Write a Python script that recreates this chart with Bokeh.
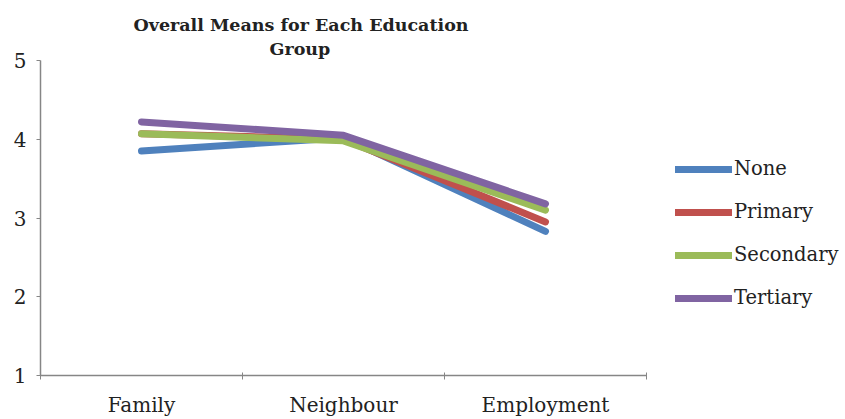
from bokeh.plotting import figure
from bokeh.models import FixedTicker, Legend, LegendItem, Range1d, Title
from bokeh.embed import file_html
from bokeh.resources import INLINE

# Mean scores per domain for each education group
categories = ["Family", "Neighbour", "Employment"]
none_vals = [3.85, 4.02, 2.83]
primary_vals = [4.07, 4.00, 2.95]
secondary_vals = [4.07, 3.98, 3.10]
tertiary_vals = [4.22, 4.05, 3.18]
y_ticks = [1, 2, 3, 4, 5]

series = [
    ("None", none_vals, "#4F81BD"),
    ("Primary", primary_vals, "#C0504D"),
    ("Secondary", secondary_vals, "#9BBB59"),
    ("Tertiary", tertiary_vals, "#8064A2"),
]

serif = "DejaVu Serif"
ink = "#222222"
axis_grey = "#868686"

W, H = 845, 419
left, top, bottom = 40, 60, 44
axis_px = 606  # width of the category axis; the rest holds the legend

n = len(categories)
x_end = n * (W - left) / axis_px

p = figure(
    width=W, height=H,
    output_backend="svg", toolbar_location=None,
    x_range=Range1d(0, x_end), y_range=Range1d(1, 5),
    min_border_left=left, min_border_right=0,
    min_border_top=top, min_border_bottom=bottom,
    title=None,
)

# Two-line title, each line placed from the frame's left edge
for line, shift, gap in [("Group", 229, 4), ("Overall Means for Each Education", 93, 0)]:
    p.add_layout(Title(text=line, align="left", offset=shift,
                       text_font=serif, text_font_size="17.5px",
                       text_font_style="bold", text_color=ink,
                       standoff=gap), "above")

# Category centres sit half a band in; boundary ticks at band edges
centers = [i + 0.5 for i in range(n)]
edges = list(range(n + 1))

p.grid.visible = False
p.outline_line_color = None
p.background_fill_color = "white"
p.border_fill_color = "white"

xa = p.xaxis[0]
xa.bounds = (0, n)
xa.ticker = FixedTicker(ticks=centers, minor_ticks=edges)
xa.major_label_overrides = {c: name for c, name in zip(centers, categories)}
xa.major_tick_line_color = None
xa.minor_tick_line_color = axis_grey
xa.minor_tick_in = 3
xa.minor_tick_out = 4
xa.axis_line_color = axis_grey
xa.axis_line_width = 1.5
xa.major_label_text_font = serif
xa.major_label_text_font_size = "20px"
xa.major_label_text_color = ink
xa.major_label_standoff = 11

ya = p.yaxis[0]
ya.ticker = FixedTicker(ticks=y_ticks)
ya.minor_tick_line_color = None
ya.major_tick_in = 0
ya.major_tick_out = 4
ya.major_tick_line_color = axis_grey
ya.axis_line_color = axis_grey
ya.axis_line_width = 1.5
ya.major_label_text_font = serif
ya.major_label_text_font_size = "20px"
ya.major_label_text_color = ink
ya.major_label_standoff = 10

items = []
for name, vals, color in series:
    r = p.line(centers, vals, line_color=color, line_width=7,
               line_cap="round", line_join="round")
    items.append(LegendItem(label=name, renderers=[r]))

legend = Legend(
    items=items, location=(axis_px + 29, 66),
    label_text_font=serif, label_text_font_size="19.5px",
    label_text_color=ink,
    glyph_width=57, glyph_height=20, label_height=20,
    label_standoff=2, spacing=20, padding=15, margin=0,
    border_line_color=None, background_fill_alpha=0,
)
p.add_layout(legend)

open("out.html", "w").write(file_html(p, INLINE))
